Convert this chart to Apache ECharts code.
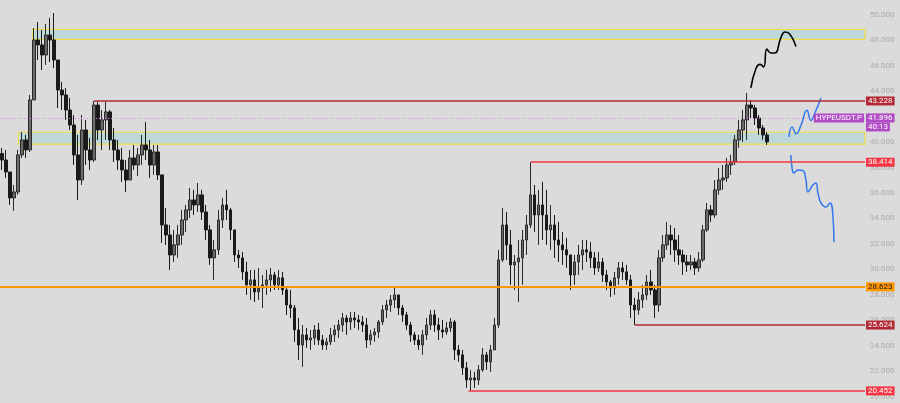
<!DOCTYPE html>
<html><head><meta charset="utf-8">
<script src="https://cdn.jsdelivr.net/npm/echarts@6/dist/echarts.min.js"></script>
<style>html,body{margin:0;padding:0;background:#dbdbdb}#c{width:900px;height:403px}</style>
</head><body><div id="c"></div>
<script>
// ---- data ----
const symbol = "HYPEUSDT.P";
const lastPrice = 41.896;
const countdown = "40:13";
const firstOpen = 39.10;
const priceTicks = [20,22,24,26,28,30,32,34,36,38,40,42,44,46,48,50];
const closes = [38.59,37.65,35.61,36.08,38.99,40.17,39.38,43.31,48.02,47.63,
46.84,48.41,48.02,46.45,44.09,43.70,42.52,41.34,38.99,37.02,
40.95,39.38,38.59,42.91,40.95,41.74,42.37,40.17,39.38,38.59,
37.81,37.02,38.75,38.20,38.99,39.77,39.38,38.20,39.22,37.42,
33.49,32.70,31.13,31.92,32.70,33.88,34.67,35.45,35.06,35.85,
34.51,33.10,30.90,31.53,33.88,35.06,34.67,33.10,31.13,30.90,
29.80,28.78,29.17,28.23,28.54,28.78,29.17,29.56,28.78,29.33,
28.38,27.20,26.97,25.24,24.06,24.85,24.45,24.61,25.24,24.45,
24.06,24.30,24.85,25.24,25.63,26.18,25.87,26.18,26.03,25.87,
25.63,24.45,24.85,25.08,25.87,26.81,27.20,27.60,27.99,26.97,
26.42,25.63,24.85,24.45,24.06,24.85,25.63,26.42,25.63,25.24,
25.08,25.40,25.87,23.67,23.28,22.26,21.31,21.47,21.31,22.10,
23.28,22.73,23.67,25.63,30.74,33.49,31.92,30.35,30.58,30.90,
32.31,33.49,35.85,34.27,35.06,34.27,33.10,33.49,32.31,31.92,
31.53,31.13,29.56,30.58,31.13,31.53,31.37,30.90,30.11,30.58,
29.56,29.01,28.54,29.33,30.11,29.80,29.17,27.20,26.81,27.60,
27.99,29.01,28.38,27.20,30.90,31.92,32.70,32.31,31.53,31.13,
30.58,30.35,30.58,30.11,30.74,33.10,34.67,34.27,36.24,37.02,
37.18,38.20,38.44,40.17,40.95,41.74,42.91,42.68,41.89,41.11,
40.56,40.01];
const highs = [39.54,39.38,37.42,36.63,39.38,40.79,40.56,43.70,48.96,49.43,
48.81,49.28,49.75,50.14,46.29,44.72,44.25,43.47,42.13,40.56,
42.13,41.74,40.32,43.23,43.15,42.52,43.15,42.52,41.11,40.17,
39.54,38.59,39.38,39.77,39.54,40.56,41.58,40.17,39.77,39.77,
37.42,34.83,33.49,33.10,33.49,34.67,35.06,36.40,36.24,36.79,
36.24,35.06,33.49,32.31,34.67,35.61,36.24,34.83,32.70,31.53,
31.37,30.58,29.95,29.95,30.11,29.56,29.95,30.11,29.80,29.95,
29.80,28.54,28.38,27.20,26.18,25.63,25.40,25.24,25.63,25.79,
24.85,24.61,25.40,25.63,26.03,26.58,26.42,26.66,26.66,26.42,
26.34,26.18,25.24,25.40,26.03,27.20,27.60,27.99,28.54,27.99,
27.20,26.66,25.87,25.08,24.85,25.24,26.18,26.81,26.81,26.18,
26.03,25.87,26.18,26.03,24.06,23.67,22.73,22.10,21.94,22.49,
23.83,23.51,24.06,26.18,31.53,34.83,34.51,33.10,31.13,32.31,
33.10,34.27,38.41,36.63,36.24,36.87,36.24,35.06,34.27,33.73,
32.94,32.47,31.13,31.13,31.92,32.31,32.31,32.15,31.37,31.37,
30.90,29.95,29.17,29.80,30.58,30.58,30.35,29.56,27.76,28.23,
28.78,29.56,29.95,28.78,31.53,32.70,33.73,33.49,33.25,32.70,
31.53,31.13,31.13,30.90,31.37,33.49,35.22,35.06,37.02,37.97,
38.20,38.75,38.99,40.56,41.74,42.52,43.86,43.31,42.91,42.13,
41.34,40.79];
const lows = [37.81,37.18,35.06,34.59,35.85,38.75,38.75,39.22,43.31,46.45,
45.66,46.06,46.29,45.82,42.68,42.52,41.74,40.95,38.20,35.45,
36.63,38.20,37.81,38.44,40.17,39.38,40.17,39.38,38.44,37.81,
36.87,36.08,37.18,37.81,37.34,38.20,38.59,37.18,37.42,37.02,
32.08,31.92,29.95,30.58,30.90,31.92,32.94,34.04,34.27,34.51,
33.88,32.31,30.35,29.17,31.13,33.25,33.88,32.31,30.58,30.11,
29.17,27.99,27.60,27.44,27.60,26.97,27.99,28.23,28.38,28.38,
27.99,26.42,26.18,24.30,22.88,22.34,23.83,23.67,24.06,24.06,
23.67,23.67,24.06,24.30,24.61,25.08,24.85,25.24,25.40,25.24,
25.08,23.83,24.06,24.30,24.61,25.63,26.18,26.66,26.97,26.42,
25.87,25.24,24.30,24.06,23.67,23.28,24.45,25.24,25.08,24.45,
24.61,24.85,25.08,22.88,22.73,21.71,20.69,20.45,20.69,20.92,
21.94,22.10,21.94,23.67,25.40,30.58,30.74,28.78,28.38,27.44,
28.78,31.13,33.25,32.94,31.92,32.31,31.92,31.53,30.90,30.58,
30.35,30.11,28.38,28.78,29.56,29.95,30.58,30.11,29.56,29.80,
29.01,28.38,27.83,27.99,28.78,29.17,28.78,26.18,25.62,26.42,
26.97,27.60,27.99,26.18,26.66,30.58,31.53,31.13,30.58,30.35,
29.56,29.80,29.95,29.56,29.80,30.58,32.94,33.73,34.04,35.85,
36.24,36.87,37.42,38.20,39.54,40.01,40.17,41.89,41.34,40.56,
40.17,39.77];
const totalSlots = 216;               // bar slots on the time axis (incl. empty future space)
const priceMin = 19.50, priceMax = 51.16;   // visible price range
// horizontal levels: value, start bar, colour
const levelValues = [43.228, 38.414, 28.623, 25.624, 20.452];
const levelStarts = [23.5, 132.5, 0, 158.5, 117];
const levelColors = ['#b22833', '#f23645', '#ff9800', '#b22833', '#f23645'];
const levelTextColors = ['#ffffff', '#ffffff', '#131722', '#ffffff', '#ffffff'];
// zones: [top, bottom], start bar
const zoneTop = [48.86, 48.07], zoneTopStart = 8.2;
const zoneLow = [40.77, 39.83], zoneLowStart = 4.6;
// projected paths: [bar position, price]
const blackPath = [[187.5,44.25],[188.8,45.8],[189.8,46.1],[190.7,45.9],[191.5,47.3],[192.5,47.0],[193.5,47.0],[195,48.2],[196,48.65],[197,48.55],[198.75,47.5]];
const blueUp = [[197,40.40],[197.8,41.19],[198.8,40.65],[200,41.3],[201.5,42.5],[202.5,41.7],[203.5,42.3],[205,43.47]];
const blueDown = [[197.5,38.99],[197.75,38.05],[198.25,37.57],[199.25,37.81],[200.5,37.75],[201.25,37.02],[201.75,36.08],[203,36.63],[203.75,36.79],[204.25,36.00],[205,35.22],[206.25,34.90],[207.25,35.22],[208,34.12],[208.25,32.15]];

// ---- build ----
const cats = [];
for (let i = 0; i < totalSlots; i++) cats.push(String(i));
const candles = closes.map((c, i) => {
  const o = i === 0 ? firstOpen : closes[i - 1];
  return [o, c, Math.min(lows[i], o, c), Math.max(highs[i], o, c)];
});
const FONT = 'Roboto, Arial, sans-serif';
const tagLabel = (bg, fg, text) => ({
  show: true, position: 'end', distance: 1, formatter: text,
  backgroundColor: bg, color: fg, fontSize: 8, lineHeight: 9, padding: [0, 2], fontFamily: FONT
});
const levelLines = levelValues.map((v, k) => ([
  { coord: [levelStarts[k], v], lineStyle: { color: levelColors[k], width: k === 2 ? 2 : 1.6, type: 'solid' },
    label: tagLabel(levelColors[k], levelTextColors[k], v.toFixed(3)) },
  { coord: [totalSlots, v] }
]));
const purple = '#b24cc6';
const tagStep = 9 * (priceMax - priceMin) / 403; // one tag height, in price units
levelLines.push([
  { coord: [0, lastPrice], lineStyle: { color: '#d88ae3', width: 1, type: [1, 2] },
    label: tagLabel(purple, '#fff', lastPrice.toFixed(3)) },
  { coord: [totalSlots, lastPrice] }
]);
levelLines.push([
  { coord: [0, lastPrice], lineStyle: { color: 'rgba(0,0,0,0)', width: 0 },
    label: { show: true, position: 'insideEnd', distance: 1, formatter: symbol,
      backgroundColor: purple, color: '#fff', fontSize: 8, lineHeight: 9, padding: [0, 2], fontFamily: FONT } },
  { coord: [totalSlots, lastPrice] }
]);
levelLines.push([
  { coord: [0, lastPrice - tagStep], lineStyle: { color: 'rgba(0,0,0,0)', width: 0 },
    label: tagLabel(purple, '#fff', countdown) },
  { coord: [totalSlots, lastPrice - tagStep] }
]);

const chart = echarts.init(document.getElementById('c'), null, { renderer: 'canvas' });
chart.setOption({
  animation: false,
  backgroundColor: '#dbdbdb',
  grid: { left: 0, right: 35, top: 0, bottom: 0, containLabel: false, outerBoundsMode: 'none' },
  xAxis: [
    { type: 'category', data: cats, show: false, boundaryGap: true },
    { type: 'value', min: 0, max: totalSlots, show: false }
  ],
  yAxis: {
    type: 'value', position: 'right', min: priceMin, max: priceMax,
    axisLine: { show: false }, axisTick: { show: false }, splitLine: { show: false },
    axisLabel: { margin: 5, color: '#ababab', fontSize: 8, fontFamily: FONT,
      customValues: priceTicks, formatter: v => v.toFixed(3) }
  },
  series: [
    { type: 'line', xAxisIndex: 1, data: [], z: 1, silent: true,
      markArea: { silent: true, itemStyle: { color: '#bdd7db', opacity: 1, borderColor: '#efe04a', borderWidth: 1.2 },
        data: [
          [{ coord: [zoneTopStart, zoneTop[0]] }, { coord: [totalSlots, zoneTop[1]] }],
          [{ coord: [zoneLowStart, zoneLow[0]] }, { coord: [totalSlots, zoneLow[1]] }]
        ] } },
    { type: 'candlestick', xAxisIndex: 0, data: candles, barWidth: 3, z: 2,
      itemStyle: { color: '#6a6a6a', color0: '#1a1a1a', borderColor: '#2a2a2a', borderColor0: '#1a1a1a', borderWidth: 1 } },
    { type: 'line', xAxisIndex: 1, data: blackPath, smooth: 0.5, showSymbol: false, z: 4,
      lineStyle: { color: '#000', width: 1.6 } },
    { type: 'line', xAxisIndex: 1, data: blueUp, smooth: 0.5, showSymbol: false, z: 4,
      lineStyle: { color: '#3478f0', width: 1.5 } },
    { type: 'line', xAxisIndex: 1, data: blueDown, smooth: 0.5, showSymbol: false, z: 4,
      lineStyle: { color: '#3478f0', width: 1.5 } },
    { type: 'line', xAxisIndex: 1, data: [], z: 5, silent: true,
      markLine: { silent: true, symbol: 'none', animation: false, data: levelLines } }
  ]
});
</script></body></html>
